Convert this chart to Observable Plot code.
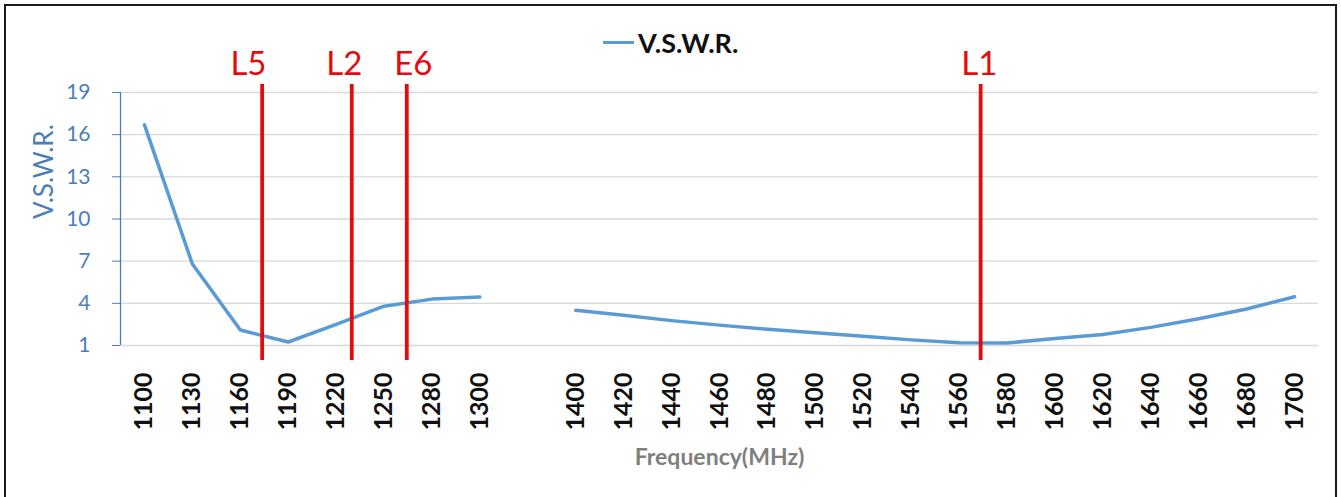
<!DOCTYPE html>
<html>
<head>
<meta charset="utf-8">
<script src="https://cdn.jsdelivr.net/npm/d3@7"></script>
<script src="https://cdn.jsdelivr.net/npm/@observablehq/plot@0.6"></script>
<style>
  html, body { margin: 0; padding: 0; background: #fff; }
  #wrap { position: relative; width: 1341px; height: 497px; overflow: hidden; font-family: Lato, "Open Sans", sans-serif; }
  #border { position: absolute; left: 4px; top: 4px; width: 1329px; height: 520px; border: 2px solid #1a1a1a; pointer-events: none; }
  #legend { position: absolute; left: 603px; top: 26px; display: flex; align-items: center; gap: 4px; font-weight: bold; font-size: 27px; color: #111; }
  #legend .sw { display: inline-block; width: 31px; height: 3px; background: #5b9bd5; }
</style>
</head>
<body>
<div id="wrap">
  <div id="chart"></div>
  <div id="legend"><span class="sw"></span><span>V.S.W.R.</span></div>
  <div id="border"></div>
</div>
<script>
// Category labels (blank category = gap between the two bands)
const freqLabels = ["1100","1130","1160","1190","1220","1250","1280","1300","",
  "1400","1420","1440","1460","1480","1500","1520","1540","1560","1580",
  "1600","1620","1640","1660","1680","1700"];
// V.S.W.R. values (null = gap)
const vswr = [16.7, 6.8, 2.1, 1.25, 2.5, 3.8, 4.3, 4.45, null,
  3.5, 3.16, 2.77, 2.45, 2.16, 1.91, 1.66, 1.4, 1.2, 1.18,
  1.5, 1.79, 2.29, 2.9, 3.6, 4.47];
const yTicks = [1, 4, 7, 10, 13, 16, 19];
// GNSS band markers, placed at fractional category positions
const bandNames = ["L5", "L2", "E6", "L1"];
const bandIndex = [2.456, 4.326, 5.474, 17.45];
const bandLabelIndex = [2.17, 4.17, 5.61, 17.42];

const rows = freqLabels.map((f, i) => ({i, f, v: vswr[i]}));
const tickIdx = rows.filter(d => d.f !== "").map(d => d.i);
const bands = bandNames.map((n, k) => ({n, x: bandIndex[k], lx: bandLabelIndex[k]}));

const axisBlue = "#4a7ebb";
const red = "#e30b0b";

const plot = Plot.plot({
  width: 1341,
  height: 497,
  marginLeft: 120,
  marginRight: 23,
  marginTop: 92,
  marginBottom: 152,
  style: {fontFamily: "Lato, 'Open Sans', sans-serif", background: "transparent", overflow: "visible"},
  x: {domain: [-0.5, freqLabels.length - 0.5], axis: null},
  y: {domain: [1, 19], axis: null},
  marks: [
    Plot.gridY(yTicks, {stroke: "#d9d9d9", strokeOpacity: 1, strokeWidth: 1.3}),
    Plot.ruleX([-0.5], {stroke: axisBlue, strokeWidth: 1.3}),
    Plot.axisY(yTicks, {anchor: "left", tickSize: 8, tickPadding: 22, fontSize: 21, color: axisBlue, label: null}),
    Plot.axisX(tickIdx, {anchor: "bottom", tickSize: 0, tickPadding: 27, tickRotate: -90,
      tickFormat: i => freqLabels[i], fontSize: 25, fontWeight: "bold", color: "#111", label: null}),
    Plot.line(rows, {x: "i", y: "v", stroke: "#5b9bd5", strokeWidth: 3.5}),
    Plot.ruleX(bands, {x: "x", stroke: red, strokeWidth: 3.8, insetTop: -8, insetBottom: -15}),
    Plot.text(bands, {x: "lx", text: "n", frameAnchor: "top", dy: -41, fontSize: 33, fill: red}),
    Plot.text(["V.S.W.R."], {frameAnchor: "left", dx: -76, rotate: -90, fontSize: 26, fill: axisBlue}),
    Plot.text(["Frequency(MHz)"], {frameAnchor: "bottom", dy: 119, fontSize: 23, fontWeight: "bold", fill: "#7f7f7f"})
  ]
});
document.getElementById("chart").appendChild(plot);
</script>
</body>
</html>
